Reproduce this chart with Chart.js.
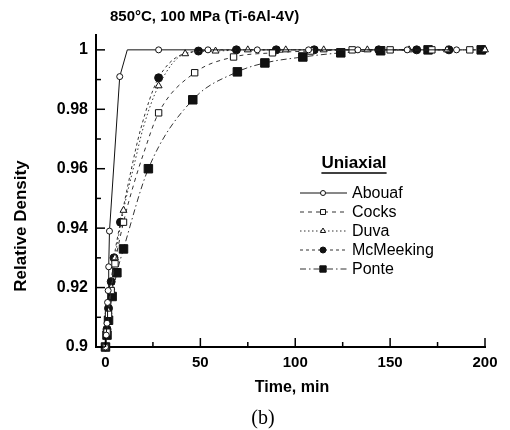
<!DOCTYPE html>
<html>
<head>
<meta charset="utf-8">
<script src="https://cdn.jsdelivr.net/npm/chart.js@4.4.1/dist/chart.umd.min.js"></script>
<style>
  html, body { margin: 0; padding: 0; background: #fff; }
  #wrap { width: 510px; height: 430px; position: relative; }
</style>
</head>
<body>
<div id="wrap"><canvas id="densityChart"></canvas></div>
<script>
// values (time in min, relative density)
const abouafTime = [0, 0.4, 0.8, 1.1, 1.4, 1.7, 2.1, 7.5, 11.5, 28, 54, 80, 107, 133, 159, 185];
const abouafDensity = [0.900, 0.904, 0.908, 0.915, 0.919, 0.927, 0.939, 0.991, 1.0, 1.0, 1.0, 1.0, 1.0, 1.0, 1.0, 1.0];

const cocksTime = [0, 0.8, 1.6, 3, 5, 9.5, 15, 20, 28, 47, 67.5, 88, 108, 130, 150, 172, 192];
const cocksDensity = [0.900, 0.905, 0.911, 0.919, 0.928, 0.942, 0.955, 0.965, 0.9788, 0.9923, 0.9976, 0.999, 0.9996, 1.0, 1.0, 1.0, 1.0];

const duvaTime = [0, 0.8, 1.6, 3, 5, 9.5, 15, 20, 28, 42, 58, 75, 95, 115, 138, 160, 180, 200];
const duvaDensity = [0.900, 0.905, 0.912, 0.920, 0.930, 0.946, 0.961, 0.974, 0.9879, 0.9987, 0.9996, 1.0, 1.0, 1.0, 1.0, 1.0, 1.0, 1.0];

const mcmeekingTime = [0, 0.8, 1.6, 3, 4.5, 7.9, 13, 18.4, 28, 49, 69, 90, 110, 144, 164, 181, 199];
const mcmeekingDensity = [0.900, 0.906, 0.913, 0.922, 0.930, 0.942, 0.958, 0.973, 0.9906, 0.9996, 1.0, 1.0, 1.0, 1.0, 1.0, 1.0, 1.0];

const ponteTime = [0, 0.8, 1.6, 3.5, 6, 9.5, 22.6, 46, 69.5, 84, 104, 124, 145, 170, 198];
const ponteDensity = [0.900, 0.904, 0.909, 0.917, 0.925, 0.933, 0.960, 0.9832, 0.9926, 0.9956, 0.9976, 0.999, 0.9997, 1.0, 1.0];

const xTickValues = [0, 25, 50, 75, 100, 125, 150, 175, 200];
const yTickValues = [0.90, 0.91, 0.92, 0.93, 0.94, 0.95, 0.96, 0.97, 0.98, 0.99, 1.0];

const INK = '#111';
const FONT = '"Liberation Sans", Arial, sans-serif';

// points on the curve that carry no marker in the original
function makeSet(label, times, dens, st, plain) {
    return {
        label: label,
        data: times.map((t, i) => ({ x: t, y: dens[i] })),
        borderColor: st.line,
        borderWidth: 1,
        borderDash: st.dash,
        pointStyle: st.shape,
        pointRadius: (c) => plain.includes(c.dataIndex) ? 0 : st.r,
        pointHoverRadius: st.r,
        pointBackgroundColor: st.fill,
        pointBorderColor: INK,
        pointBorderWidth: 1,
        cubicInterpolationMode: st.smooth ? 'monotone' : 'default',
        tension: 0,
        fill: false,
        clip: false,
        legendMarker: st
    };
}

const datasets = [
    makeSet('Abouaf', abouafTime, abouafDensity, { line: INK, dash: [], shape: 'circle', r: 3, fill: '#fff', smooth: false, lr: 2.5 }, [8]),
    makeSet('Cocks', cocksTime, cocksDensity, { line: '#333', dash: [4, 4], shape: 'rect', r: 4.5, fill: '#fff', smooth: true, lr: 3.5 }, [6, 7]),
    makeSet('Duva', duvaTime, duvaDensity, { line: '#333', dash: [1.5, 2.5], shape: 'triangle', r: 4, fill: '#fff', smooth: true, lr: 3 }, [6, 7]),
    makeSet('McMeeking', mcmeekingTime, mcmeekingDensity, { line: '#333', dash: [3, 3], shape: 'circle', r: 4, fill: INK, smooth: true, lr: 3 }, [6, 7]),
    makeSet('Ponte', ponteTime, ponteDensity, { line: '#333', dash: [6, 3, 1.5, 3], shape: 'rect', r: 6, fill: INK, smooth: true, lr: 4.5 }, [])
];

function marker(ctx, shape, x, y, r, fill) {
    ctx.beginPath();
    if (shape === 'circle') {
        ctx.arc(x, y, r, 0, Math.PI * 2);
    } else if (shape === 'rect') {
        const s = r * Math.SQRT1_2;
        ctx.rect(x - s, y - s, 2 * s, 2 * s);
    } else {
        ctx.moveTo(x, y - r);
        ctx.lineTo(x + r * 0.87, y + r * 0.5);
        ctx.lineTo(x - r * 0.87, y + r * 0.5);
        ctx.closePath();
    }
    ctx.fillStyle = fill;
    ctx.fill();
    ctx.lineWidth = 1;
    ctx.strokeStyle = INK;
    ctx.stroke();
}

const decorations = {
    id: 'decorations',
    afterDraw(chart) {
        const { ctx, chartArea: a, scales: { x, y } } = chart;
        ctx.save();

        // ticks point into the plot
        ctx.strokeStyle = '#000';
        ctx.lineWidth = 1.5;
        xTickValues.forEach(v => {
            const px = x.getPixelForValue(v);
            const len = v % 50 === 0 ? 9 : 5;
            ctx.beginPath();
            ctx.moveTo(px, a.bottom);
            ctx.lineTo(px, a.bottom - len);
            ctx.stroke();
        });
        yTickValues.forEach((v, i) => {
            const py = y.getPixelForValue(v);
            const len = i % 2 === 0 ? 9 : 5;
            ctx.beginPath();
            ctx.moveTo(a.left, py);
            ctx.lineTo(a.left + len, py);
            ctx.stroke();
        });

        ctx.fillStyle = '#000';
        ctx.textBaseline = 'middle';

        // title
        ctx.font = 'bold 15px ' + FONT;
        ctx.textAlign = 'left';
        ctx.fillText('850°C, 100 MPa (Ti-6Al-4V)', 110, 17);

        // axis titles
        ctx.textAlign = 'center';
        ctx.font = 'bold 16px ' + FONT;
        ctx.fillText('Time, min', 292, 388);
        ctx.save();
        ctx.translate(21, 226);
        ctx.rotate(-Math.PI / 2);
        ctx.font = 'bold 17px ' + FONT;
        ctx.fillText('Relative Density', 0, 0);
        ctx.restore();

        ctx.font = '20px "Liberation Serif", "Times New Roman", serif';
        ctx.fillText('(b)', 263, 419);

        // legend
        ctx.font = 'bold 17px ' + FONT;
        ctx.fillText('Uniaxial', 354, 163);
        const uw = ctx.measureText('Uniaxial').width;
        ctx.lineWidth = 1.5;
        ctx.beginPath();
        ctx.moveTo(354 - uw / 2, 173);
        ctx.lineTo(354 + uw / 2, 173);
        ctx.stroke();

        ctx.font = '16px ' + FONT;
        ctx.textAlign = 'left';
        chart.data.datasets.forEach((ds, i) => {
            const ly = 193 + i * 19;
            ctx.setLineDash(ds.borderDash);
            ctx.lineWidth = 1;
            ctx.strokeStyle = ds.borderColor;
            ctx.beginPath();
            ctx.moveTo(300, ly);
            ctx.lineTo(347, ly);
            ctx.stroke();
            ctx.setLineDash([]);
            const st = ds.legendMarker;
            marker(ctx, st.shape, 323, ly, st.lr, st.fill);
            ctx.fillStyle = '#000';
            ctx.fillText(ds.label, 352, ly + 1);
        });

        ctx.restore();
    }
};

new Chart(document.getElementById('densityChart'), {
    type: 'line',
    data: { datasets: datasets },
    plugins: [decorations],
    options: {
        responsive: true,
        maintainAspectRatio: false,
        animation: false,
        layout: { padding: { top: 35, right: 25, left: 0, bottom: 0 } },
        plugins: {
            legend: { display: false },
            title: { display: false },
            tooltip: { enabled: false }
        },
        scales: {
            x: {
                type: 'linear',
                min: -5,
                max: 200,
                afterFit: (s) => { s.height = 83; },
                afterBuildTicks: (s) => { s.ticks = xTickValues.map(v => ({ value: v })); },
                grid: { drawOnChartArea: false, drawTicks: false },
                border: { display: true, color: '#000', width: 2 },
                ticks: {
                    padding: 7,
                    color: '#000',
                    maxRotation: 0,
                    autoSkip: false,
                    font: { family: FONT, size: 15, weight: 'bold' },
                    callback: (v) => v % 50 === 0 ? String(v) : ''
                }
            },
            y: {
                type: 'linear',
                min: 0.9,
                max: 1.005,
                afterFit: (s) => { s.width = 96; },
                afterBuildTicks: (s) => { s.ticks = yTickValues.map(v => ({ value: v })); },
                grid: { drawOnChartArea: false, drawTicks: false },
                border: { display: true, color: '#000', width: 2 },
                ticks: {
                    padding: 8,
                    color: '#000',
                    autoSkip: false,
                    font: { family: FONT, size: 16, weight: 'bold' },
                    callback: (v) => {
                        const k = Math.round(v * 100);
                        return k % 2 === 0 ? String(k / 100) : '';
                    }
                }
            }
        }
    }
});
</script>
</body>
</html>
